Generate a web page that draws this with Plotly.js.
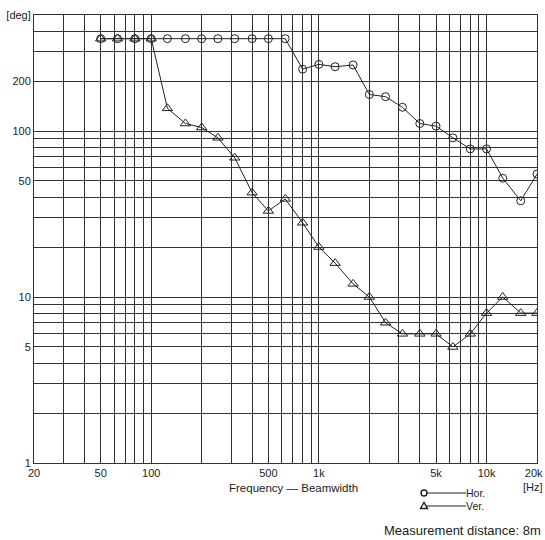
<!DOCTYPE html>
<html>
<head>
<meta charset="utf-8">
<script src="https://cdn.plot.ly/plotly-3.0.1.min.js"></script>
<style>
html,body{margin:0;padding:0;background:#fff;}
#chart{width:545px;height:540px;}
</style>
</head>
<body>
<div id="chart"></div>
<script>
// Frequencies (1/3 octave, Hz)
const freqs = [50,63,80,100,125,160,200,250,315,400,500,630,800,1000,1250,1600,2000,2500,3150,4000,5000,6300,8000,10000,12500,16000,20000];
// Beamwidth, degrees
const horDeg = [360,360,360,360,360,360,360,360,360,360,360,360,236,252,244,250,166,161,139,111,107,91,78,78,52,38,55];
const verDeg = [360,360,360,360,137,111,105,91,69,42.5,33,39,28,20,16,12,10,7,6,6,6,5,6,8,10,8,8];

// Axis grid / tick labels
const xTickVals = [20,30,40,50,60,70,80,90,100,200,300,400,500,600,700,800,900,1000,2000,3000,4000,5000,6000,7000,8000,9000,10000,20000];
const xTickLabels = {20:'20',50:'50',100:'100',500:'500',1000:'1k',5000:'5k',10000:'10k'};
const xEndLabel = '20k<br>[Hz]';
const yTickVals = [1,2,3,4,5,6,7,8,9,10,20,30,40,50,60,70,80,90,100,200,300,400,500];
const yTickLabels = {1:'1',5:'5',10:'10',50:'50',100:'100',200:'200',500:'[deg]'};

const FONT = 'Liberation Sans, Arial, Helvetica, sans-serif';
const INK = '#222';
const GRID = '#333';

const traces = [
  {
    x: freqs, y: horDeg, name: 'Hor.', type: 'scatter', mode: 'lines+markers',
    line: {color: INK, width: 1},
    marker: {symbol: 'circle-open', size: 8, color: INK, line: {width: 1}},
    showlegend: false
  },
  {
    x: freqs, y: verDeg, name: 'Ver.', type: 'scatter', mode: 'lines+markers',
    line: {color: INK, width: 1},
    marker: {symbol: 'triangle-up-open', size: 9, color: INK, line: {width: 1}},
    showlegend: false
  }
];

// Custom legend (paper coordinates below plot area)
const plotL = 34, plotR = 537, plotT = 15, plotB = 463;
const px = v => (v - plotL) / (plotR - plotL);
const py = v => (plotB - v) / (plotB - plotT);
const legX0 = px(424), legX1 = px(466);
const legYH = py(493), legYV = py(506);

const shapes = [
  {type:'line', xref:'paper', yref:'paper', x0:legX0, x1:legX1, y0:legYH, y1:legYH, line:{color:INK, width:1}},
  {type:'line', xref:'paper', yref:'paper', x0:legX0, x1:legX1, y0:legYV, y1:legYV, line:{color:INK, width:1}},
  {type:'circle', xref:'paper', yref:'paper', xsizemode:'pixel', ysizemode:'pixel',
   xanchor:legX0, yanchor:legYH, x0:-3, x1:3, y0:-3, y1:3, line:{color:INK, width:1.4}, fillcolor:'#fff'},
  {type:'path', xref:'paper', yref:'paper', xsizemode:'pixel', ysizemode:'pixel',
   xanchor:legX0, yanchor:legYV, path:'M -3.5 -2.5 L 3.5 -2.5 L 0 3.5 Z', line:{color:INK, width:1.4}, fillcolor:'#fff'}
];

const annotations = [
  {xref:'paper', yref:'paper', x:legX1, y:legYH, xanchor:'left', yanchor:'middle', showarrow:false,
   text:'Hor.', font:{family:FONT, size:10.5, color:INK}, xshift:-2},
  {xref:'paper', yref:'paper', x:legX1, y:legYV, xanchor:'left', yanchor:'middle', showarrow:false,
   text:'Ver.', font:{family:FONT, size:10.5, color:INK}, xshift:-2},
  {xref:'paper', yref:'paper', x:px(293), y:py(488), xanchor:'center', yanchor:'middle', showarrow:false,
   text:'Frequency — Beamwidth', font:{family:FONT, size:11.5, color:INK}},
  {xref:'paper', yref:'paper', x:px(543), y:py(530), xanchor:'right', yanchor:'middle', showarrow:false,
   text:'Measurement distance: 8m', font:{family:FONT, size:13, color:INK}},
  {xref:'paper', yref:'paper', x:px(544), y:py(466), xanchor:'right', yanchor:'top', showarrow:false,
   align:'right', text:xEndLabel, font:{family:FONT, size:11, color:INK}, borderpad:0}
];

const layout = {
  width: 545, height: 540,
  margin: {l: plotL, r: 545 - plotR, t: plotT, b: 540 - plotB},
  paper_bgcolor: '#fff', plot_bgcolor: '#fff',
  showlegend: false,
  font: {family: FONT, size: 11, color: INK},
  xaxis: {
    type: 'log', range: [Math.log10(20), Math.log10(20000)],
    tickmode: 'array', tickvals: xTickVals,
    ticktext: xTickVals.map(v => xTickLabels[v] || ''),
    ticks: '', showgrid: true, gridcolor: GRID, gridwidth: 1,
    showline: true, linecolor: GRID, linewidth: 1, mirror: true,
    zeroline: false, tickfont: {family: FONT, size: 11, color: INK}
  },
  yaxis: {
    type: 'log', range: [0, Math.log10(500)],
    tickmode: 'array', tickvals: yTickVals,
    ticktext: yTickVals.map(v => yTickLabels[v] || ''),
    ticks: '', showgrid: true, gridcolor: GRID, gridwidth: 1,
    showline: true, linecolor: GRID, linewidth: 1, mirror: true,
    ticklabeloverflow: 'allow',
    zeroline: false, tickfont: {family: FONT, size: 11, color: INK}
  },
  shapes: shapes,
  annotations: annotations
};

Plotly.newPlot('chart', traces, layout, {displayModeBar: false, staticPlot: true});
</script>
</body>
</html>
